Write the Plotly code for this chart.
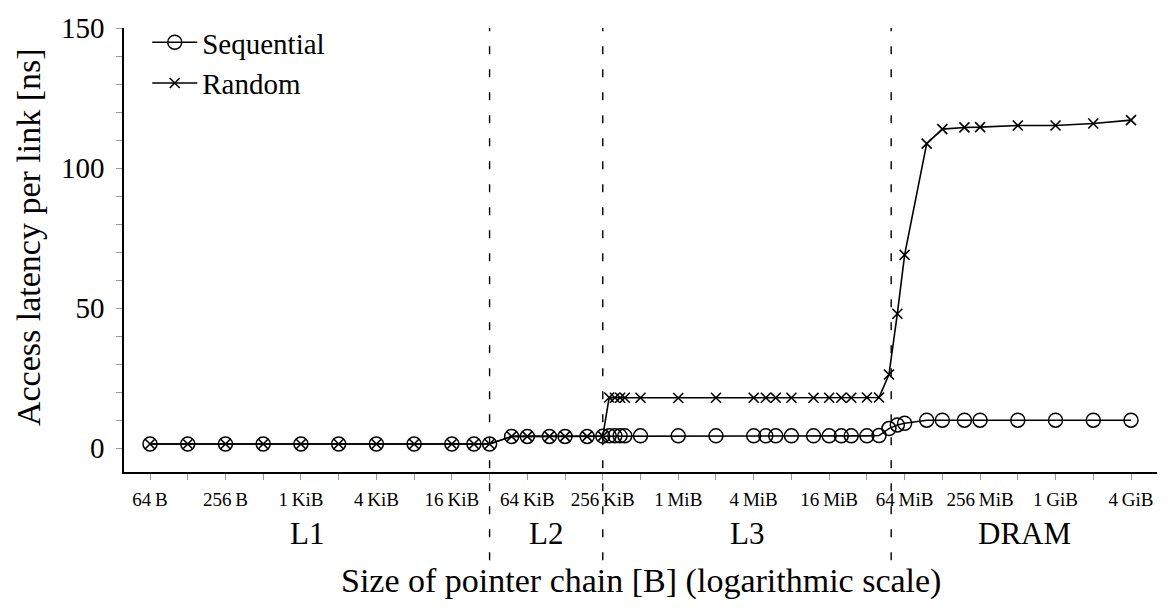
import math
import plotly.graph_objects as go

KiB = 1024
MiB = 1024 * KiB
GiB = 1024 * MiB

# Size of the pointer chain in bytes
chain_size = [
    64, 128, 256, 512, 1 * KiB, 2 * KiB, 4 * KiB, 8 * KiB, 16 * KiB, 24 * KiB, 32 * KiB,
    48 * KiB, 64 * KiB, 96 * KiB, 128 * KiB, 192 * KiB, 256 * KiB,
    288 * KiB, 320 * KiB, 352 * KiB, 384 * KiB, 512 * KiB, 1 * MiB, 2 * MiB, 4 * MiB,
    5 * MiB, 6 * MiB, 8 * MiB, 12 * MiB, 16 * MiB, 20 * MiB, 24 * MiB, 32 * MiB, 40 * MiB,
    48 * MiB, 56 * MiB, 64 * MiB, 96 * MiB, 128 * MiB, 192 * MiB, 256 * MiB,
    512 * MiB, 1 * GiB, 2 * GiB, 4 * GiB,
]

# Access latency per link [ns]
sequential_ns = [
    1.5, 1.5, 1.5, 1.5, 1.5, 1.5, 1.5, 1.5, 1.5, 1.5, 1.5,
    4.2, 4.2, 4.2, 4.2, 4.2, 4.3,
    4.4, 4.4, 4.4, 4.4, 4.4, 4.4, 4.4, 4.4,
    4.4, 4.4, 4.4, 4.4, 4.4, 4.4, 4.4, 4.4, 4.5,
    7.0, 8.3, 8.9, 10.0, 10.0, 10.0, 10.0,
    10.0, 10.0, 10.0, 10.0,
]
random_ns = [
    1.5, 1.5, 1.5, 1.5, 1.5, 1.5, 1.5, 1.5, 1.5, 1.5, 1.5,
    4.2, 4.2, 4.2, 4.2, 4.2, 4.3,
    18.1, 18.0, 18.0, 18.0, 18.0, 17.9, 18.0, 18.0,
    18.0, 18.0, 18.0, 18.0, 18.0, 18.0, 18.0, 18.1, 18.1,
    26.3, 48.0, 69.0, 108.7, 113.9, 114.5, 114.6,
    115.2, 115.2, 115.9, 117.1,
]

# Cache level boundaries and the memory regions between them
boundaries = [32 * KiB, 256 * KiB, 50 * MiB]
regions = ["L1", "L2", "L3", "DRAM"]

# Axis ticks
x_tick_vals = [2 ** k for k in range(6, 33)]
x_tick_text = ["64\u2009B", "", "256\u2009B", "", "1\u2009KiB", "", "4\u2009KiB", "",
               "16\u2009KiB", "", "64\u2009KiB", "", "256\u2009KiB", "", "1\u2009MiB", "",
               "4\u2009MiB", "", "16\u2009MiB", "", "64\u2009MiB", "", "256\u2009MiB", "",
               "1\u2009GiB", "", "4\u2009GiB"]
y_tick_vals = list(range(0, 151, 10))
y_tick_text = [str(v) if v % 50 == 0 else "" for v in y_tick_vals]

X_LO, X_HI = 2 ** 5.311, 2 ** 32.689
Y_LO, Y_HI = -8.5, 150

FONT = "Liberation Serif"
TICK_GREY = "#9a9a9a"

fig = go.Figure()
fig.add_trace(go.Scatter(
    x=chain_size, y=sequential_ns, name="Sequential", mode="lines+markers",
    line=dict(color="black", width=1.6),
    marker=dict(symbol="circle-open", size=14, color="black", line=dict(width=1.5)),
))
fig.add_trace(go.Scatter(
    x=chain_size, y=random_ns, name="Random", mode="lines+markers",
    line=dict(color="black", width=1.6),
    marker=dict(symbol="x-thin", size=10, color="black", line=dict(width=1.6, color="black")),
))

log_lo, log_hi = math.log10(X_LO), math.log10(X_HI)

axis_common = dict(showgrid=False, zeroline=False)
fig.update_layout(
    width=1170, height=610,
    margin=dict(l=124, r=13, t=19, b=138),
    paper_bgcolor="white", plot_bgcolor="white",
    font=dict(family=FONT, size=29, color="black"),
    showlegend=True,
    legend=dict(x=0.0225, y=1.025, xanchor="left", yanchor="top",
                bgcolor="rgba(0,0,0,0)", font=dict(size=29), tracegroupgap=0,
                itemwidth=45),
    xaxis=dict(type="log", range=[log_lo, log_hi], tickmode="array",
               tickvals=x_tick_vals, ticktext=x_tick_text,
               ticks="outside", ticklen=6, tickwidth=1.2, tickcolor=TICK_GREY,
               tickfont=dict(size=19), ticklabelstandoff=3,
               showline=True, linecolor="black", linewidth=1.5, **axis_common),
    xaxis2=dict(type="log", range=[log_lo, log_hi], overlaying="x", matches="x",
                anchor="y", side="bottom", tickmode="array", tickvals=x_tick_vals,
                ticks="inside", ticklen=6, tickwidth=1.2, tickcolor=TICK_GREY,
                showticklabels=False, showline=False, **axis_common),
    yaxis=dict(range=[Y_LO, Y_HI], tickmode="array", tickvals=y_tick_vals,
               ticktext=y_tick_text, ticks="outside", ticklen=6, tickwidth=1.2,
               tickcolor=TICK_GREY, ticklabelstandoff=6, tickfont=dict(size=29),
               showline=True, linecolor="black", linewidth=1.5, **axis_common),
    yaxis2=dict(range=[Y_LO, Y_HI], overlaying="y", matches="y", anchor="x",
                side="left", tickmode="array", tickvals=y_tick_vals,
                ticks="inside", ticklen=6, tickwidth=1.2, tickcolor=TICK_GREY,
                showticklabels=False, showline=False, **axis_common),
)

# Dashed cache boundaries, reaching down through the region labels
for b in boundaries:
    fig.add_shape(type="line", xref="x", yref="paper", x0=b, x1=b, y0=-0.199, y1=1.0,
                  line=dict(color="black", width=1.4, dash="8px,15px"), layer="below")

# Region labels centred (in log space) between neighbouring boundaries
edges = [log_lo] + [math.log10(b) for b in boundaries] + [log_hi]
for name, a, c in zip(regions, edges[:-1], edges[1:]):
    fig.add_annotation(x=(a + c) / 2, y=-0.139, xref="x", yref="paper", text=name,
                       showarrow=False, font=dict(size=31), xanchor="center",
                       yanchor="middle")

fig.add_annotation(x=0.5, y=-0.245, xref="paper", yref="paper",
                   text="Size of pointer chain [B] (logarithmic scale)", showarrow=False,
                   font=dict(size=34), xanchor="center", yanchor="middle")
fig.add_annotation(x=-0.093, y=0.529, xref="paper", yref="paper",
                   text="Access latency per link [ns]", showarrow=False, textangle=-90,
                   font=dict(size=34), xanchor="center", yanchor="middle")

fig.write_html("out.html")
